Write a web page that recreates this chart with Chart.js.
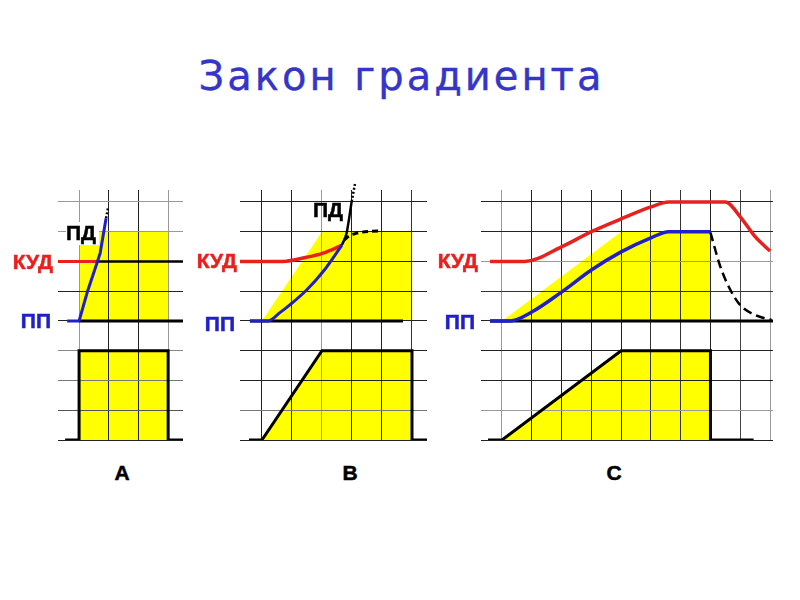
<!DOCTYPE html>
<html><head><meta charset="utf-8">
<script src="https://cdn.jsdelivr.net/npm/chart.js@4.4.1/dist/chart.umd.min.js"></script>
<style>
body{margin:0;width:800px;height:600px;background:#fff;position:relative;overflow:hidden;font-family:"Liberation Sans",Arial,sans-serif}
canvas{position:absolute;z-index:1}
.lbl{position:absolute;z-index:2;font-weight:bold;font-size:21px;line-height:21px;white-space:nowrap;-webkit-text-stroke:0.5px currentColor}
#title{position:absolute;left:0;width:800px;text-align:center;top:56px;font-family:"DejaVu Sans",sans-serif;font-size:40px;line-height:40px;letter-spacing:3px;padding-left:3px;box-sizing:border-box;color:#3535c8;-webkit-text-stroke:0.4px #3535c8}
</style></head><body>
<div id="title">Закон градиента</div>
<div class="lbl" style="left:66px;top:222px;color:#000;background:#fff;padding-right:3px;padding-bottom:2px">ПД</div>
<div class="lbl" style="right:747px;top:251px;color:#e8201e">КУД</div>
<div class="lbl" style="right:749px;top:310px;color:#2020c8">ПП</div>
<div class="lbl" style="left:313px;top:199px;color:#000">ПД</div>
<div class="lbl" style="right:563px;top:250px;color:#e8201e">КУД</div>
<div class="lbl" style="right:565px;top:313px;color:#2020c8">ПП</div>
<div class="lbl" style="right:322px;top:250px;color:#e8201e">КУД</div>
<div class="lbl" style="right:325px;top:311px;color:#2020c8">ПП</div>
<div class="lbl" style="left:112px;top:462px;width:20px;text-align:center;color:#000">A</div>
<div class="lbl" style="left:340px;top:462px;width:20px;text-align:center;color:#000">B</div>
<div class="lbl" style="left:604px;top:462px;width:20px;text-align:center;color:#000">C</div>
<canvas id="cA"></canvas><canvas id="cB"></canvas><canvas id="cC"></canvas>
<script>
// grid ticks
const yTicks = [0,1,2,3,4,5,6,7,8];
const xTicksA = [0,1,2,3];
const xTicksB = [0,1,2,3,4,5];
const xTicksC = [0,1,2,3,4,5,6,7,8,9];

// Panel A
const aInputX = [-0.47,0,0,3,3,3.5];
const aInputY = [0,0,3,3,0,0];
const aZoneX = [0,3];
const aZoneY = [7,7];
const aPPX = [-0.4,0,0.28,0.6,0.71,0.91];
const aPPY = [4,4,4.98,5.94,6.28,7.45];
const aPDX = [0.91,0.97];
const aPDY = [7.45,7.79];
const aKUDX = [-0.71,0.6];
const aKUDY = [6,6];
const aKUDLevelX = [0.6,3.5];
const aKUDLevelY = [6,6];
const aBaseX = [0,3.5];
const aBaseY = [4,4];

// Panel B
const bInputX = [-0.43,0,2,5,5,5.55];
const bInputY = [0,0,3,3,0,0];
const bZoneX = [0,2,5];
const bZoneY = [4,7,7];
const bPPX = [-0.4,0.2,0.6,0.93,1.49,2.04,2.66];
const bPPY = [4,4,4.28,4.54,5.04,5.66,6.54];
const bKUDX = [-0.73,0.7,1.49,2.04,2.66];
const bKUDY = [6,6,6.14,6.28,6.54];
const bPDX = [2.66,2.82,2.99];
const bPDY = [6.54,6.95,8.01];
const bPDTopX = [2.99,3.1];
const bPDTopY = [8.01,8.6];
const bDashX = [2.74,2.9,3.16,3.6,3.99];
const bDashY = [6.72,6.85,6.95,7.01,7.02];
const bBaseX = [-0.4,4.7];
const bBaseY = [4,4];

// Panel C
const cInputX = [-0.47,0,4,7,7,8.45];
const cInputY = [0,0,3,3,0,0];
const cZoneX = [0,4,7];
const cZoneY = [4,7,7];
const cKUDX = [-0.4,0.77,2,3,4,5,5.6,7.5,8,8.5,9];
const cKUDY = [6,6,6.49,7,7.43,7.83,8,8,7.5,6.83,6.35];
const cPPX = [-0.4,0.27,1,2,3,4,5,5.6,7];
const cPPY = [4,4,4.3,4.97,5.71,6.32,6.79,7,7];
const cDashX = [7,7.33,7.67,8,8.5,9.05];
const cDashY = [6.97,5.83,5.04,4.53,4.2,4.03];
const cBaseX = [-0.4,9.1];
const cBaseY = [4,4];

const RED='#e8201e', BLUE='#2020c8', YEL='#ffff00', BLK='#000';

function pts(xs, ys){ return xs.map((x,i)=>({x:x,y:ys[i]})); }
function line(xs, ys, color, w, extra){
  return Object.assign({data:pts(xs,ys), borderColor:color, borderWidth:w, pointRadius:0, fill:false, tension:0}, extra||{});
}
function zone(xs, ys, base){
  return {data:pts(xs,ys), borderWidth:0, borderColor:'rgba(0,0,0,0)', backgroundColor:YEL, pointRadius:0, fill:{value:base}, tension:0};
}

function panel(id, left, right, xMin, xMax, xTicks, xCols, yCols, datasets){
  const pad = 16, top = 190, h = 250;
  const cv = document.getElementById(id);
  const w = right - left;
  cv.width = w + 2*pad; cv.height = h + 2*pad;
  cv.style.left = (left - pad) + 'px'; cv.style.top = (top - pad) + 'px';
  cv.style.width = cv.width + 'px'; cv.style.height = cv.height + 'px';
  datasets.forEach((d,i)=>{ d.order = 100 - i; });
  new Chart(cv, {
    type:'line',
    data:{datasets:datasets},
    options:{
      responsive:false, animation:false, devicePixelRatio:1,
      layout:{padding:pad, autoPadding:false},
      plugins:{legend:{display:false}, tooltip:{enabled:false}, filler:{drawTime:'beforeDraw'}},
      scales:{
        x:{type:'linear', min:xMin, max:xMax,
           afterBuildTicks:s=>{ s.ticks = xTicks.map(v=>({value:v})); },
           ticks:{display:false}, border:{display:false},
           grid:{drawTicks:false, lineWidth:1, color:c=>xCols[c.index]}},
        y:{type:'linear', min:0, max:8.4,
           afterBuildTicks:s=>{ s.ticks = yTicks.map(v=>({value:v})); },
           ticks:{display:false}, border:{display:false},
           grid:{drawTicks:false, lineWidth:1, color:c=>yCols[c.index]}}
      }
    }
  });
}

panel('cA', 58, 183, -0.71, 3.5, xTicksA,
  ['#999','#222','#222','#999'],
  ['#222','#555','#777','#888','#222','#222','#222','#999','#999'],
  [
    zone(aZoneX, aZoneY, 4),
    line(aInputX, aInputY, BLK, 3, {backgroundColor:YEL, fill:{value:0}}),
    line(aBaseX, aBaseY, BLK, 3),
    line(aKUDLevelX, aKUDLevelY, BLK, 2.5),
    line(aKUDX, aKUDY, RED, 3),
    line(aPDX, aPDY, BLK, 2.5, {borderDash:[2,2]}),
    line(aPPX, aPPY, BLUE, 3)
  ]);

panel('cB', 240, 427, -0.73, 5.5, xTicksB,
  ['#222','#222','#999','#222','#222','#333'],
  ['#222','#777','#222','#222','#222','#222','#222','#222','#222'],
  [
    zone(bZoneX, bZoneY, 4),
    line(bInputX, bInputY, BLK, 3, {backgroundColor:YEL, fill:{value:0}}),
    line(bBaseX, bBaseY, BLK, 3),
    line(bDashX, bDashY, BLK, 3, {borderDash:[6,4], cubicInterpolationMode:'monotone'}),
    line(bKUDX, bKUDY, RED, 3.5, {cubicInterpolationMode:'monotone'}),
    line(bPDTopX, bPDTopY, BLK, 2.5, {borderDash:[2,2], clip:false}),
    line(bPDX, bPDY, BLK, 2.5, {cubicInterpolationMode:'monotone', clip:false}),
    line(bPPX, bPPY, BLUE, 3, {cubicInterpolationMode:'monotone'})
  ]);

panel('cC', 481, 773, -0.705, 9.1, xTicksC,
  ['#999','#222','#222','#222','#222','#333','#333','#222','#444','#999'],
  ['#222','#999','#222','#222','#222','#333','#999','#222','#222'],
  [
    zone(cZoneX, cZoneY, 4),
    line(cInputX, cInputY, BLK, 3, {backgroundColor:YEL, fill:{value:0}}),
    line(cBaseX, cBaseY, BLK, 3),
    line(cDashX, cDashY, BLK, 2.5, {borderDash:[9,5], cubicInterpolationMode:'monotone'}),
    line(cKUDX, cKUDY, RED, 3.5, {cubicInterpolationMode:'monotone'}),
    line(cPPX, cPPY, BLUE, 3.5, {cubicInterpolationMode:'monotone'})
  ]);
</script>
</body></html>
